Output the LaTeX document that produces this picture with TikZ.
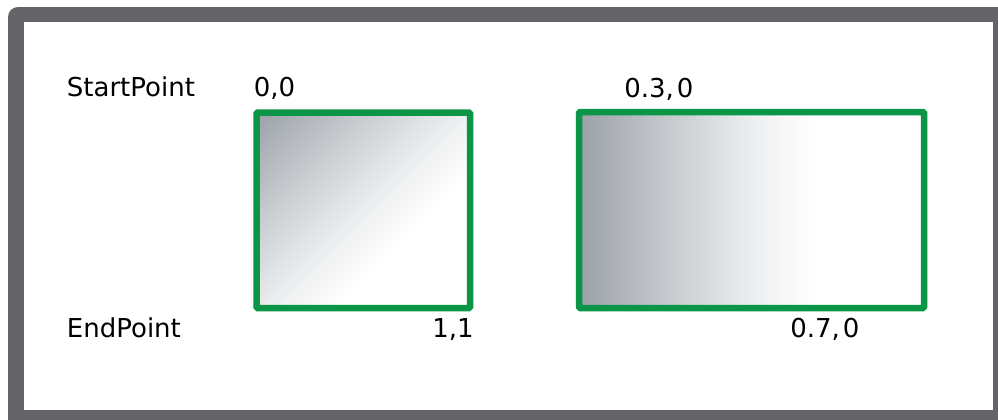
\documentclass[tikz,border=0pt]{standalone}
\usepackage{fontspec}
\setmainfont{DejaVu Sans}
\definecolor{framegray}{HTML}{636368}
\definecolor{boxgreen}{HTML}{0A9646}
\definecolor{sg0}{HTML}{9CA1AA}
\definecolor{sg1}{HTML}{BDC1C6}
\definecolor{sg2}{HTML}{DDE0E2}
\definecolor{sg3}{HTML}{F2F3F4}
\pgfdeclarehorizontalshading{fadeA}{100bp}{color(0bp)=(sg0); color(14.6bp)=(sg0); color(28.7bp)=(sg1); color(42.9bp)=(sg2); color(53.5bp)=(sg3); color(62.7bp)=(white); color(100bp)=(white)}
\pgfdeclarehorizontalshading{fadeB}{100bp}{color(0bp)=(sg0); color(25bp)=(sg0); color(35bp)=(sg1); color(45bp)=(sg2); color(52.5bp)=(sg3); color(59bp)=(white); color(100bp)=(white)}
\tikzset{
  lbl/.style={inner sep=0pt, font=\fontsize{13}{15}\selectfont, text=black},
  gbox/.style={draw=boxgreen, line width=3.25pt, rounded corners=0.6pt, inner sep=0pt, outer sep=0pt},
}
\begin{document}
\begin{tikzpicture}[x=0.5pt,y=-0.5pt]
\useasboundingbox (0,0) rectangle (998,419);
\fill[white] (0,0) rectangle (998,419);
% frame
\begin{scope}
\clip (0,0) rectangle (998,419);
\fill[framegray, rounded corners=5pt] (8,7) rectangle (1030,450);
\fill[white] (23.5,22) rectangle (993,410);
\end{scope}
% boxes
\node[gbox, shading=fadeA, shading angle=-45, minimum width=106.75pt, minimum height=97.75pt, anchor=north west] (b1) at (256.5,112.5) {};
\node[gbox, shading=fadeB, minimum width=172.5pt, minimum height=98pt, anchor=north west] (b2) at (579,112) {};
% labels
\node[lbl, anchor=base west] (sp) at (66.5,96) {StartPoint};
\node[lbl, anchor=base west] (ep) at (66.5,337) {EndPoint};
\node[lbl, anchor=base west] (s1) at (253.5,96) {0,0};
\node[lbl, anchor=base east] (e1) at (474,337) {1,1};
\node[lbl, anchor=base west] (s2) at (624,97) {0.3, \kern-2.75pt 0};
\node[lbl, anchor=base west] (e2) at (790,337) {0.7, \kern-2.75pt 0};
\end{tikzpicture}
\end{document}
